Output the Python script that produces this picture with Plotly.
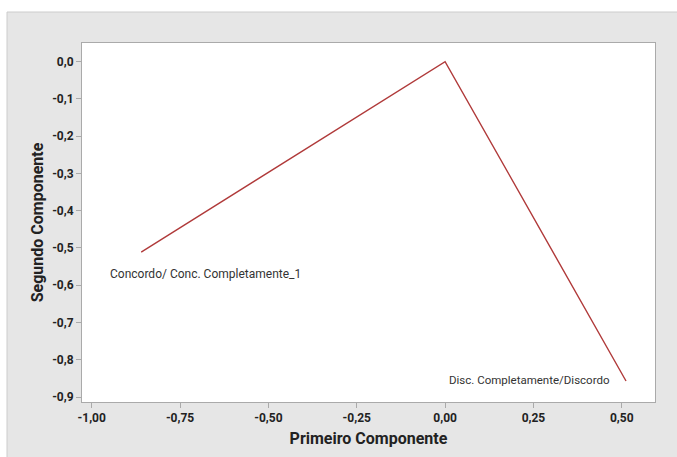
import plotly.graph_objects as go

x_vals = [-0.860, 0.0, 0.512]
y_vals = [-0.511, 0.0, -0.857]
labels = ["Concordo/ Conc. Completamente_1", "Disc. Completamente/Discordo"]
label_x = [-0.954, 0.24]
label_y = [-0.57, -0.855]
x_ticks = [-1.0, -0.75, -0.5, -0.25, 0.0, 0.25, 0.5]
x_ticktext = ["-1,00", "-0,75", "-0,50", "-0,25", "0,00", "0,25", "0,50"]
y_ticks = [0.0, -0.1, -0.2, -0.3, -0.4, -0.5, -0.6, -0.7, -0.8, -0.9]
y_ticktext = ["0,0", "-0,1", "-0,2", "-0,3", "-0,4", "-0,5", "-0,6", "-0,7", "-0,8", "-0,9"]

W, H = 677, 457
ml, mr, mt, mb = 82, 22, 43, 55
pw, ph = W - ml - mr, H - mt - mb

def px(x):
    return (x - ml) / pw

def py(y):
    return 1 - (y - mt) / ph

fig = go.Figure()
fig.add_trace(go.Scatter(x=x_vals, y=y_vals, mode="lines",
                         line=dict(color="#b03a3a", width=1.4), hoverinfo="skip"))

fig.add_annotation(x=label_x[0], y=label_y[0], text=labels[0], showarrow=False,
                   xanchor="left", yanchor="middle",
                   font=dict(family="Roboto", size=12, color="#333333"))
fig.add_annotation(x=label_x[1], y=label_y[1], text=labels[1], showarrow=False,
                   xanchor="center", yanchor="middle",
                   font=dict(family="Roboto", size=11.5, color="#333333"))

shapes = [
    dict(type="rect", xref="paper", yref="paper", x0=px(0), x1=px(W), y0=py(12), y1=py(-5),
         fillcolor="white", line=dict(width=0), layer="above"),
    dict(type="rect", xref="paper", yref="paper", x0=px(-5), x1=px(7), y0=py(H + 5), y1=py(-5),
         fillcolor="white", line=dict(width=0), layer="above"),
    dict(type="line", xref="paper", yref="paper", x0=px(7), x1=px(W + 5), y0=py(12), y1=py(12),
         line=dict(color="#cccccc", width=1), layer="above"),
    dict(type="line", xref="paper", yref="paper", x0=px(7), x1=px(7), y0=py(12), y1=py(H + 5),
         line=dict(color="#cccccc", width=1), layer="above"),
]

fig.update_layout(
    width=W, height=H,
    margin=dict(l=ml, r=mr, t=mt, b=mb),
    paper_bgcolor="#e6e6e6", plot_bgcolor="white",
    showlegend=False,
    shapes=shapes,
    font=dict(family="Roboto", color="#222222"),
)
fig.update_xaxes(range=[-1.0275, 0.594], tickvals=x_ticks, ticktext=x_ticktext,
                 showgrid=False, zeroline=False, showline=True, mirror=True,
                 linecolor="#aaaaaa", linewidth=1, ticks="outside", ticklen=5,
                 tickcolor="#aaaaaa",
                 tickfont=dict(family="Roboto", size=12, color="#222222", weight="bold"),
                 title=dict(text="Primeiro Componente", standoff=8,
                            font=dict(family="Roboto", size=16, color="#222222", weight="bold")))
fig.update_yaxes(range=[-0.9134, 0.05], tickvals=y_ticks, ticktext=y_ticktext,
                 showgrid=False, zeroline=False, showline=True, mirror=True,
                 linecolor="#aaaaaa", linewidth=1, ticks="outside", ticklen=5,
                 tickcolor="#aaaaaa",
                 tickfont=dict(family="Roboto", size=12, color="#222222", weight="bold"),
                 title=dict(text="Segundo Componente", standoff=4,
                            font=dict(family="Roboto", size=16, color="#222222", weight="bold")))

fig.write_html("out.html")
